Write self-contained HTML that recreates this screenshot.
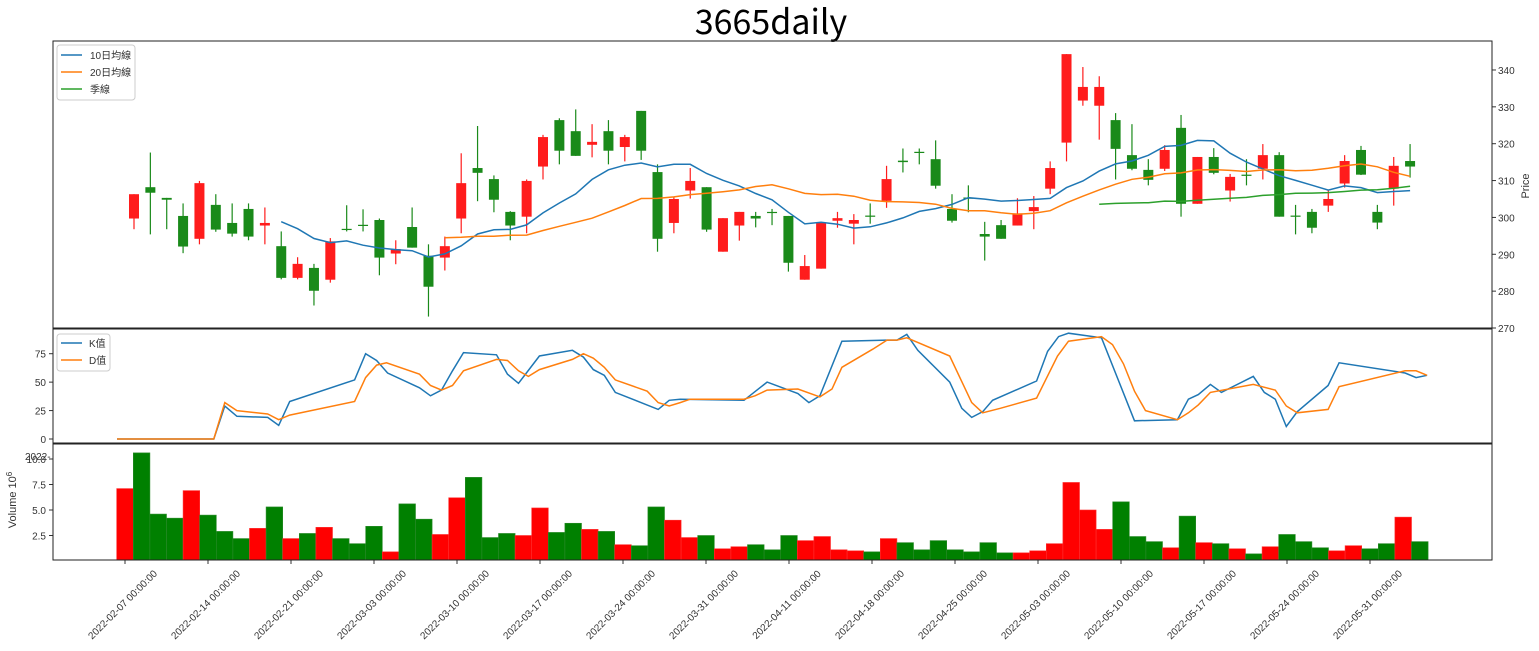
<!DOCTYPE html>
<html><head><meta charset="utf-8"><title>3665daily</title>
<style>
html,body{margin:0;padding:0;background:#fff;}
svg{display:block;font-family:"Liberation Sans","Noto Sans CJK TC",sans-serif;}
</style></head>
<body>
<svg id="chart" width="1539" height="651" viewBox="0 0 1539 651" xmlns="http://www.w3.org/2000/svg">
<rect width="1539" height="651" fill="#fff"/>
<text x="771" y="34" text-anchor="middle" font-size="34" font-family="'Noto Sans CJK JP','Liberation Sans',sans-serif" fill="#000">3665daily</text>
<g id="price-panel"></g>
<g id="kd-panel"></g>
<g id="vol-panel"></g>
<g id="xaxis"></g>
<rect x="53" y="41" width="1439" height="287" fill="none" stroke="#222" stroke-width="1"/>
<rect x="53" y="329" width="1439" height="114" fill="none" stroke="#222" stroke-width="1"/>
<rect x="53" y="444" width="1439" height="116" fill="none" stroke="#222" stroke-width="1"/>
<text x="1529" y="186" font-size="11" fill="#333" text-anchor="middle" transform="rotate(-90 1529 186)">Price</text>
<text x="16" y="500" font-size="11" fill="#333" text-anchor="middle" transform="rotate(-90 16 500)">Volume  10<tspan dy="-4" font-size="8">6</tspan></text>
<text x="25" y="460" font-size="10" fill="#333">2022-</text>
<g>
<rect x="57" y="45" width="78" height="55" rx="3" fill="#fff" stroke="#ccc"/>
<line x1="61" y1="55" x2="82" y2="55" stroke="#1f77b4" stroke-width="1.5"/>
<text x="90" y="59" font-size="10" fill="#333">10日均線</text>
<line x1="61" y1="72" x2="82" y2="72" stroke="#ff7f0e" stroke-width="1.5"/>
<text x="90" y="76" font-size="10" fill="#333">20日均線</text>
<line x1="61" y1="89" x2="82" y2="89" stroke="#2ca02c" stroke-width="1.5"/>
<text x="90" y="93" font-size="10" fill="#333">季線</text>
</g>
<g>
<rect x="57" y="334" width="53" height="37" rx="3" fill="#fff" stroke="#ccc"/>
<line x1="61" y1="343" x2="82" y2="343" stroke="#1f77b4" stroke-width="1.5"/>
<text x="89" y="347" font-size="10" fill="#333">K值</text>
<line x1="61" y1="360" x2="82" y2="360" stroke="#ff7f0e" stroke-width="1.5"/>
<text x="89" y="364" font-size="10" fill="#333">D值</text>
</g>
</svg>
<script>
const opens=[299.7,308.2,305.3,300.4,294.2,303.4,298.5,302.3,297.8,292.2,283.6,286.3,283.1,296.9,298.0,299.3,290.2,297.4,289.6,289.1,299.7,313.4,310.4,301.5,300.2,313.8,326.4,323.4,319.7,323.4,319.1,328.9,312.3,298.5,307.3,308.2,290.7,297.8,300.4,301.5,300.4,283.1,286.1,299.1,298.3,300.5,304.5,315.4,317.8,315.8,302.3,305.4,295.5,297.9,297.8,301.7,307.8,320.3,331.7,330.3,326.4,316.9,312.9,313.2,324.3,303.7,316.4,307.3,311.6,313.2,316.9,300.5,301.5,303.2,309.2,318.3,301.5,307.8,315.3];
const highs=[306.3,317.6,305.3,303.8,309.9,306.3,303.8,303.8,302.7,296.2,289.2,287.4,294.4,303.3,302.2,299.7,293.8,302.7,292.7,294.8,317.4,324.8,311.4,301.7,310.3,322.4,326.9,329.3,325.3,326.4,322.4,328.9,314.4,305.6,313.4,308.2,299.8,301.5,301.5,302.3,300.4,289.8,298.5,301.5,300.9,303.8,314.0,318.7,318.7,320.9,306.3,308.7,298.8,299.3,305.2,305.8,315.2,344.3,340.8,338.3,328.3,325.3,315.8,319.6,327.8,316.4,318.8,311.8,315.8,319.9,317.7,303.4,302.3,307.4,316.9,319.4,303.4,316.4,319.9];
const lows=[296.8,295.4,296.8,290.3,292.7,296.1,294.8,293.8,292.7,283.2,283.2,276.1,282.3,296.2,296.2,284.3,287.3,291.8,273.1,285.6,295.7,304.4,301.4,293.8,295.7,310.3,314.4,316.7,316.3,314.4,315.2,315.6,290.7,295.7,305.1,296.1,290.7,293.7,297.3,297.9,285.3,283.1,286.1,297.2,292.7,298.3,302.6,312.2,314.4,307.8,298.6,301.4,288.3,294.2,297.8,296.8,306.3,315.2,330.3,321.1,310.3,312.8,308.7,312.6,300.2,303.7,311.7,304.3,308.7,310.3,300.2,295.4,295.7,301.5,308.1,311.5,296.8,303.2,310.8];
const closes=[306.3,306.7,304.8,292.1,309.3,296.7,295.6,294.8,298.5,283.6,287.4,280.1,293.5,296.7,297.7,289.1,291.4,291.8,281.2,292.2,309.3,312.1,304.8,297.8,309.9,321.8,318.1,316.7,320.5,318.1,321.8,318.1,294.2,305.0,309.9,296.7,299.8,301.5,299.7,301.2,287.7,286.8,298.5,299.8,299.3,300.2,310.4,315.0,317.5,308.6,299.1,305.1,294.8,294.2,301.1,302.8,313.4,344.3,335.4,335.4,318.6,313.2,310.2,318.3,303.7,316.4,312.1,311.0,311.3,316.9,300.2,300.2,297.2,305.0,315.3,311.6,298.6,314.0,313.8];
const volumes=[7.1,10.6,4.6,4.2,6.9,4.5,2.9,2.2,3.2,5.3,2.2,2.7,3.3,2.2,1.7,3.4,0.9,5.6,4.1,2.6,6.2,8.2,2.3,2.7,2.5,5.2,2.8,3.7,3.1,2.9,1.6,1.5,5.3,4.0,2.3,2.5,1.2,1.4,1.6,1.1,2.5,2.0,2.4,1.1,1.0,0.9,2.2,1.8,1.1,2.0,1.1,0.9,1.8,0.8,0.8,1.0,1.7,7.7,5.0,3.1,5.8,2.4,1.9,1.3,4.4,1.8,1.7,1.2,0.7,1.4,2.6,1.9,1.3,1.0,1.5,1.2,1.7,4.3,1.9];
const kDays=[0,8.8,9.8,10.9,13.7,14.7,15.7,21.6,22.6,23.6,24.6,27.5,28.5,29.5,30.5,31.5,34.5,35.5,36.5,38.4,41.4,42.4,43.3,44.3,45.3,49.2,50.2,51.2,57,59.1,61.9,62.9,63.9,65.9,70,70.9,71.8,72.8,75.7,76.8,77.7,78.7,79.6,83.6,84.6,85.6,86.5,89.5,92.5,96.4,97.4,98.3,99.4,100.4,103.3,104.3,105.3,106.3,107.3,110.1,111.1,117.1,118.1,119.1];
const kValues=[0,0,29,20,19,12,33,52,75,69,58,45,38,43,60,76,74,57,49,73,78,72,61,56,41,26,34,35,34,50,40,32,38,86,87,87,92,78,50,27,19,24,34,51,77,90,93,89,16,17,35,39,48,41,55,41,35,11,24,47,67,58,54,56];
const dDays=[0,8.8,9.8,10.9,13.7,14.7,15.7,21.6,22.6,23.6,24.5,27.5,28.5,29.5,30.5,31.5,34.5,35.5,36.5,37.4,38.4,41.4,42.4,43.3,44.3,45.3,48.2,49.2,50.2,51.2,52.1,57,58,59.1,61.9,63.9,65,65.9,68.7,70,70.9,71.8,75.7,77.7,78.7,80.3,83.6,85.5,86.5,89.5,90.5,91.5,92.5,93.5,96.4,97.4,98.3,99.4,103.3,105.3,106.3,107.3,110.1,111.1,117.1,118.1,119.1];
const dValues=[0,0,32,25,22,17,21,33,54,65,67,57,47,43,47,60,70,69,60,55,61,70,75,71,63,52,42,32,29,32,35,35,38,43,44,37,44,63,79,87,87,89,73,32,23,27,36,73,86,90,83,66,42,25,17,23,30,41,48,43,29,23,26,46,60,60,56];
const dateLabels=["2022-02-07 00:00:00","2022-02-14 00:00:00","2022-02-21 00:00:00","2022-03-03 00:00:00","2022-03-10 00:00:00","2022-03-17 00:00:00","2022-03-24 00:00:00","2022-03-31 00:00:00","2022-04-11 00:00:00","2022-04-18 00:00:00","2022-04-25 00:00:00","2022-05-03 00:00:00","2022-05-10 00:00:00","2022-05-17 00:00:00","2022-05-24 00:00:00","2022-05-31 00:00:00"];
const priceTicks=[270,280,290,300,310,320,330,340];
const kdTicks=[0,25,50,75];
const volTicks=[2.5,5.0,7.5,10.0];

const NS="http://www.w3.org/2000/svg";
function mk(tag,attrs,parent){const e=document.createElementNS(NS,tag);for(const k in attrs)e.setAttribute(k,attrs[k]);parent.appendChild(e);return e;}
const pY=v=>328-(v-270)*36.86/10;
const cX=i=>134+i*16.36;
const vX=i=>125+i*16.6;
const vY=v=>561-v*10.2;
const kY=v=>439-v*85.3/75;
const dX=d=>117+d*11;
const RED="#ff1c1c",GREEN="#1a8a1a";

const pp=document.getElementById('price-panel');
priceTicks.forEach(t=>{
  const l=mk('line',{x1:1492,x2:1496,y1:pY(t),y2:pY(t),stroke:'#333'},pp);
  
  
  const tx=mk('text',{x:1498,y:pY(t)+4,'font-size':10,fill:'#333'},pp);
  tx.textContent=t;
  
  
});
closes.forEach((c,i)=>{
  const o=opens[i],up=c>o,col=up?RED:GREEN,x=cX(i);
  const w=mk('line',{x1:x,x2:x,y1:pY(highs[i]),y2:pY(lows[i]),stroke:col,'stroke-width':1.2},pp);
  
  
  const top=pY(Math.max(o,c)),bot=pY(Math.min(o,c));
  const b=mk('rect',{x:x-5,y:top,width:10,height:Math.max(1.2,bot-top),fill:col},pp);
  
  
});
function ma(n,color,name){
  let pts=[];
  for(let i=n-1;i<closes.length;i++){let s=0;for(let j=i-n+1;j<=i;j++)s+=closes[j];pts.push(cX(i).toFixed(1)+','+pY(s/n).toFixed(1));}
  if(!pts.length)return;
  const pl=mk('polyline',{points:pts.join(' '),fill:'none',stroke:color,'stroke-width':1.5},pp);
  
  
}
ma(10,'#1f77b4','ma10-line');ma(20,'#ff7f0e','ma20-line');ma(60,'#2ca02c','ma60-line');

const kp=document.getElementById('kd-panel');
kdTicks.forEach(t=>{
  const l=mk('line',{x1:49,x2:53,y1:kY(t),y2:kY(t),stroke:'#333'},kp);
  
  
  const tx=mk('text',{x:46,y:kY(t)+4,'font-size':10,fill:'#333','text-anchor':'end'},kp);
  tx.textContent=t;
  
  
});
const kl=mk('polyline',{points:kValues.map((v,i)=>dX(kDays[i]).toFixed(1)+','+kY(v).toFixed(1)).join(' '),fill:'none',stroke:'#1f77b4','stroke-width':1.5},kp);


const dl=mk('polyline',{points:dValues.map((v,i)=>dX(dDays[i]).toFixed(1)+','+kY(v).toFixed(1)).join(' '),fill:'none',stroke:'#ff7f0e','stroke-width':1.5},kp);



const vp=document.getElementById('vol-panel');
volTicks.forEach(t=>{
  const l=mk('line',{x1:49,x2:53,y1:vY(t),y2:vY(t),stroke:'#333'},vp);
  
  
  const tx=mk('text',{x:46,y:vY(t)+4,'font-size':10,fill:'#333','text-anchor':'end'},vp);
  tx.textContent=t.toFixed(1);
  
  
});
volumes.forEach((v,i)=>{
  const up=closes[i]>opens[i];
  const top=Math.max(vY(v),444);
  const r=mk('rect',{x:vX(i)-8.3,y:top,width:16.6,height:560-top,fill:up?'#ff0000':'#008000',stroke:up?'#ff3030':'#2a8a2a','stroke-width':0.6},vp);
  
  
});

const xa=document.getElementById('xaxis');
dateLabels.forEach((d,k)=>{
  const x=vX(k*5);
  const l=mk('line',{x1:x,x2:x,y1:560,y2:564,stroke:'#333'},xa);
  
  
  const tx=mk('text',{x:x,y:607,'font-size':10,fill:'#333','text-anchor':'middle',transform:'rotate(-45 '+x+' 607)'},xa);
  tx.textContent=d;
  
  
});
</script>
</body></html>
